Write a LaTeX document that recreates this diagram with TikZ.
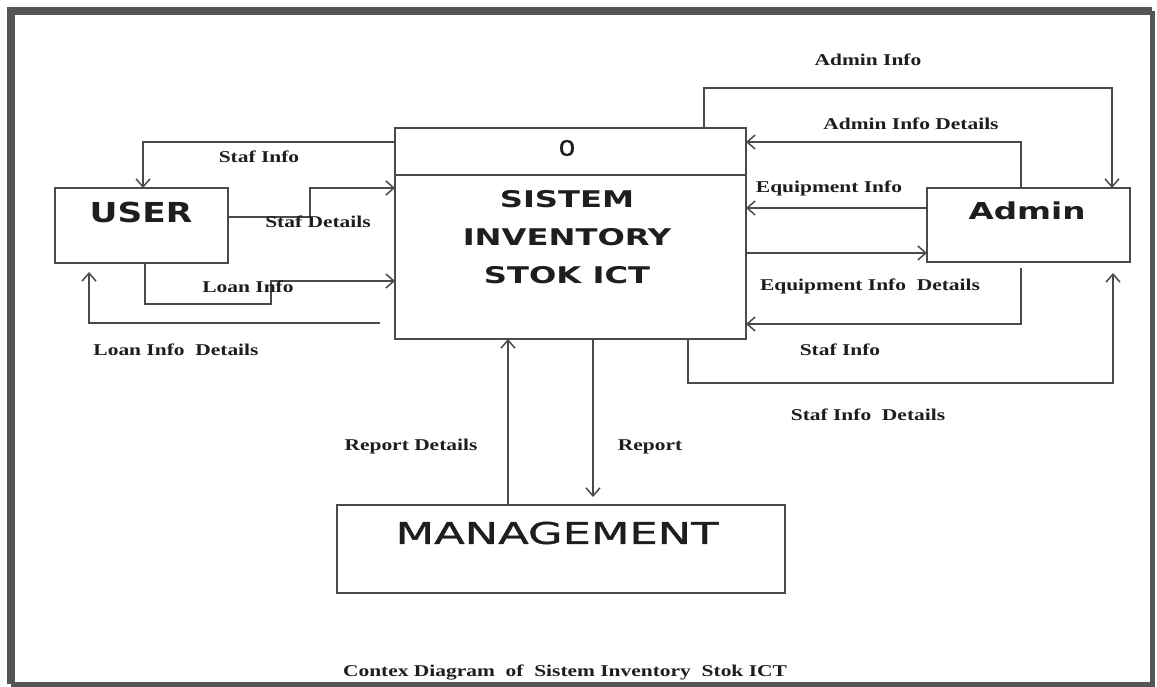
\documentclass[tikz,border=0pt]{standalone}
\usepackage{fontspec}
\usetikzlibrary{arrows.meta}
\newfontfamily\lblfont[FakeStretch=1.3,UprightFont={* Bold}]{Liberation Serif}
\newfontfamily\bigbold[FakeStretch=1.4,UprightFont={* Bold}]{DejaVu Sans}
\newfontfamily\userfont[FakeStretch=1.25,UprightFont={* Bold}]{DejaVu Sans}
\newfontfamily\mgmtfont[FakeStretch=1.5,FakeBold=1.2]{DejaVu Sans}
\newfontfamily\zerofont[FakeStretch=1.3,FakeBold=0.8]{DejaVu Sans}
\definecolor{lncol}{HTML}{4A4A4A}
\definecolor{txcol}{HTML}{1E1E1E}
\definecolor{frcol}{HTML}{555555}
\tikzset{
  box/.style={draw=lncol, line width=1.5pt, rectangle, inner sep=0pt, outer sep=0pt},
  flow/.style={draw=lncol, line width=1.5pt, -{Straight Barb[length=8pt,width=14pt]}},
  lbl/.style={text=txcol, font=\lblfont\fontsize{16.5}{18}\selectfont, inner sep=0pt},
  title/.style={text=txcol, inner sep=0pt}
}
\begin{document}
\begin{tikzpicture}[x=1pt,y=-1pt]
\useasboundingbox (0,0) rectangle (1157,687);
\fill[white] (0,0) rectangle (1157,687);
% frame
\draw[frcol, line width=8pt] (11,684) -- (11,11) -- (1152,11);
\draw[frcol, line width=5pt] (11,684) -- (1152,684) -- (1152,11);

% boxes
\node[box, minimum width=351pt, minimum height=211pt] (main) at (570.5,233.5) {};
\draw[lncol, line width=1.5pt] ([yshift=-47pt]main.north west) coordinate (dl) -- ([yshift=-47pt]main.north east) coordinate (dr);
\node[box, minimum width=173pt, minimum height=75pt] (user) at (141.5,225.5) {};
\node[box, minimum width=203pt, minimum height=74pt] (admin) at (1028.5,225) {};
\node[box, minimum width=448pt, minimum height=88pt] (mgmt) at (561,549) {};

% box texts
\node[title, font=\zerofont\fontsize{21}{22}\selectfont] (zero) at (567,148) {0};
\node[title, font=\bigbold\fontsize{23}{38}\selectfont, align=center] (maint) at (567,237) {SISTEM\\INVENTORY\\STOK ICT};
\node[title, font=\userfont\fontsize{27.5}{30}\selectfont] (usert) at (141,212) {USER};
\node[title, font=\bigbold\fontsize{23.3}{26}\selectfont] (admint) at (1027,211) {Admin};
\node[title, font=\mgmtfont\fontsize{29.8}{32}\selectfont] (mgmtt) at (557,533) {MANAGEMENT};

% connectors: USER
\draw[flow] ([yshift=-14pt]main.north west) -| ([xshift=1.5pt]user.north);
\draw[flow] ([yshift=-29pt]user.north east) -- ++(82,0) |- ([yshift=-60pt]main.north west);
\draw[flow] ([xshift=3.5pt]user.south) -- ++(0,41) -- ++(126,0) |- ([yshift=-153pt]main.north west);
\draw[flow] ([xshift=-15pt,yshift=-195pt]main.north west) -| ([xshift=-52.5pt,yshift=-9pt]user.south);

% connectors: Admin
\draw[flow] ([xshift=-42pt]main.north east) -- ++(0,-40) -| ([xshift=83.5pt]admin.north);
\draw[flow] ([xshift=-7.5pt]admin.north) |- ([yshift=-14pt]main.north east);
\draw[flow] ([yshift=-20pt]admin.north west) -- ([yshift=-80pt]main.north east);
\draw[flow] ([yshift=-125pt]main.north east) -- ([yshift=-65pt]admin.north west);
\draw[flow] ([xshift=-7.5pt,yshift=-6pt]admin.south) |- ([yshift=-196pt]main.north east);
\draw[flow] ([xshift=293pt]main.south west) -- ++(0,44) -| ([xshift=84.5pt,yshift=-11pt]admin.south);

% connectors: Management
\draw[flow] ([xshift=-53pt]mgmt.north) -- ([xshift=113pt]main.south west);
\draw[flow] ([xshift=198pt]main.south west) -- ([xshift=32pt,yshift=8pt]mgmt.north);

% labels
\node[lbl] (l1) at (259,157) {Staf Info};
\node[lbl] (l2) at (318,222) {Staf Details};
\node[lbl] (l3) at (248,287) {Loan Info};
\node[lbl] (l4) at (176,350) {Loan Info\ \ Details};
\node[lbl] (l5) at (868,60) {Admin Info};
\node[lbl] (l6) at (911,124) {Admin Info Details};
\node[lbl] (l7) at (829,188) {Equipment Info};
\node[lbl] (l8) at (870,286) {Equipment Info\ \ Details};
\node[lbl] (l9) at (840,350) {Staf Info};
\node[lbl] (l10) at (868,415) {Staf Info\ \ Details};
\node[lbl] (l11) at (411,447) {Report Details};
\node[lbl] (l12) at (650,447) {Report};
\node[lbl] (cap) at (565,673) {Contex Diagram\ \ of\ \ Sistem Inventory\ \ Stok ICT};
\end{tikzpicture}
\end{document}
